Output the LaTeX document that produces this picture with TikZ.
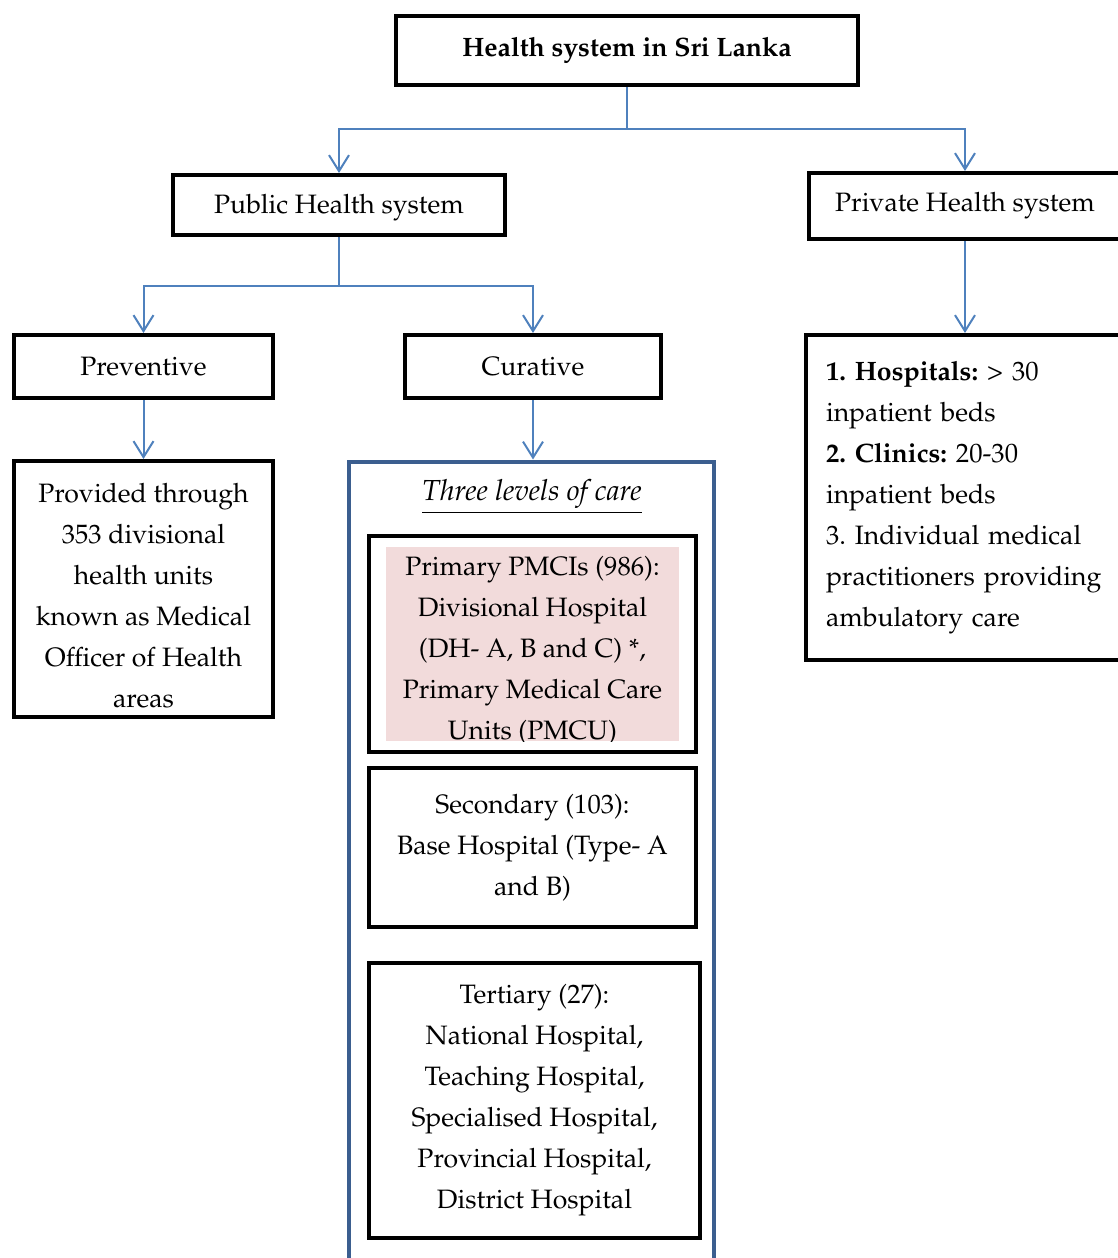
\documentclass[tikz,border=0pt]{standalone}
\usepackage[T1]{fontenc}
\usepackage{mathpazo}
\usepackage{tikz}
\usetikzlibrary{arrows.meta}
\frenchspacing
\definecolor{linkblue}{HTML}{4F81BD}
\definecolor{frameblue}{HTML}{3B5E8F}
\definecolor{pinkfill}{HTML}{F2DBDB}
\tikzstyle{block} = [
  draw,
  rectangle,
  line width=2pt,
  align=center,
  inner sep=0pt,
  font=\fontsize{13.3}{20.5}\selectfont,
]
\tikzstyle{careframe} = [
  draw=frameblue,
  rectangle,
  line width=2pt,
  inner sep=0pt,
]
\tikzstyle{pinkbg} = [
  fill=pinkfill,
  rectangle,
  inner sep=0pt,
]
\tikzstyle{plaintext} = [
  align=center,
  inner sep=0pt,
  font=\fontsize{13.3}{20.5}\selectfont,
]
\tikzstyle{link} = [
  draw=linkblue,
  line width=1pt,
  -{Straight Barb[length=8pt,width=10pt]},
]

\begin{document}
\begin{tikzpicture}[
    x=0.5pt,
    y=-0.5pt,
  ]
  \useasboundingbox (0,0) rectangle (1118,1258);
  % top level
  \node[block,minimum width=231pt,minimum height=34.5pt]
    (health) at (627,50.5) {\textbf{Health system in Sri Lanka}};
  \node[block,minimum width=166pt,minimum height=30pt]
    (public) at (339,205) {\rule{0pt}{12pt}Public Health system};
  \node[block,minimum width=156pt,minimum height=33pt]
    (private) at (965,206) {Private Health system};
  % public branch
  \node[block,minimum width=129.5pt,minimum height=31.5pt]
    (preventive) at (143.5,366.5) {Preventive};
  \node[block,minimum width=128pt,minimum height=31.5pt]
    (curative) at (533,366.5) {Curative};
  \node[block,minimum width=129.5pt,minimum height=128pt]
    (prevtext) at (143.5,589) {\rule{0pt}{16pt}Provided through\\353 divisional\\health units\\known as Medical\\Officer of Health\\areas};
  % three levels of care
  \node[careframe,minimum width=182.5pt,minimum height=408pt]
    (levels) at (531.5,869.5) {};
  \node[plaintext,font=\fontsize{14.5}{20.5}\selectfont] (title) at (532,497)
    {\underline{\textit{Three levels of care}}};
  \node[block,minimum width=163.5pt,minimum height=108pt]
    (primary) at (532.5,644) {};
  \node[pinkbg,minimum width=146.5pt,minimum height=97pt]
    (pink) at (532.5,644) {};
  \begin{scope}
    \clip (pink.south west) rectangle (pink.north east);
    \node[plaintext] (primtext) at (532.5,651)
      {Primary PMCIs (986):\\Divisional Hospital\\(DH- A, B and C) *,\\Primary Medical Care\\Units (PMCU)};
  \end{scope}
  \node[block,minimum width=163.5pt,minimum height=79.5pt]
    (secondary) at (532.5,847.5) {Secondary (103):\\Base Hospital (Type- A\\and B)};
  \node[block,minimum width=165.5pt,minimum height=137.5pt]
    (tertiary) at (534.5,1100.5) {Tertiary (27):\\National Hospital,\\Teaching Hospital,\\Specialised Hospital,\\Provincial Hospital,\\District Hospital};
  % private branch
  \node[block,align=left,anchor=west,text width=150pt,inner xsep=10pt,minimum height=162.5pt]
    (privlist) at (804,497.5) {\textbf{1. Hospitals:} \textgreater{} 30\\inpatient beds\\\textbf{2. Clinics:} 20-30\\inpatient beds\\3. Individual medical\\practitioners providing\\ambulatory care};
  % connectors
  \coordinate (fork1) at (627,129);
  \coordinate (fork2) at (339,286);
  \draw[link] (health.south) -- (fork1) -| (public.north);
  \draw[link] (fork1) -| (private.north);
  \draw[link] (public.south) -- (fork2) -| (preventive.north);
  \draw[link] (fork2) -| (curative.north);
  \draw[link] (preventive.south) -- (prevtext.north);
  \draw[link] (curative.south) -- (curative.south |- levels.north);
  \draw[link] (private.south) -- (private.south |- privlist.north);
\end{tikzpicture}
\end{document}
